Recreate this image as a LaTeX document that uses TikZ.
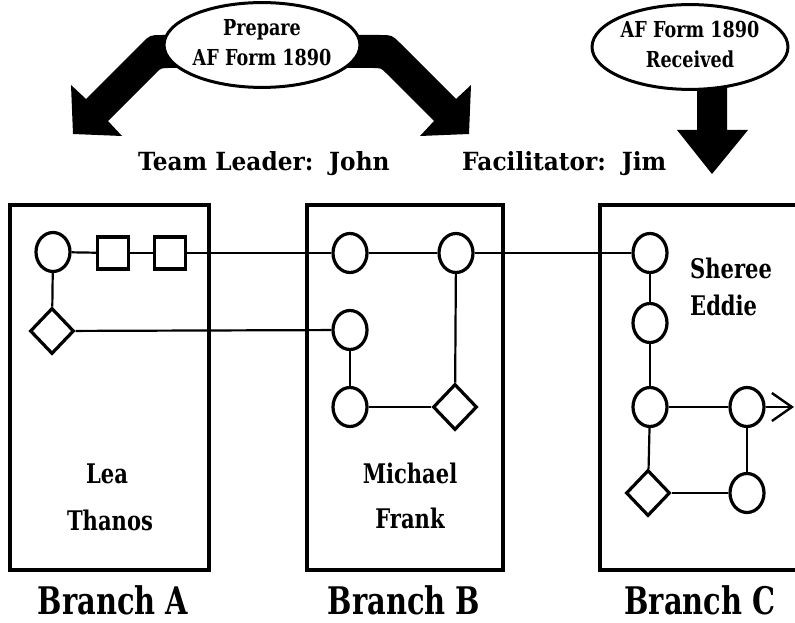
\documentclass[tikz,border=0pt]{standalone}
\usepackage{fontspec}
\setmainfont{DejaVu Serif}
\usetikzlibrary{shapes.geometric,arrows.meta}
\begin{document}
\begin{tikzpicture}[x=1pt,y=-1pt,
  box/.style={line width=3.6pt},
  circ/.style={ellipse,draw,line width=3.2pt,minimum width=34pt,minimum height=39pt,inner sep=0pt,fill=white},
  sq/.style={rectangle,draw,line width=3.2pt,minimum width=31pt,minimum height=32pt,inner sep=0pt,fill=white},
  dia/.style={diamond,draw,line width=3.2pt,minimum width=44pt,minimum height=46pt,inner sep=0pt,fill=white},
  conn/.style={line width=2.2pt},
  bubble/.style={ellipse,draw,line width=3pt,fill=white,inner sep=0pt},
  bubtext/.style={font=\bfseries\fontsize{22}{30}\selectfont},
  person/.style={font=\bfseries\fontsize{27}{30}\selectfont},
  head/.style={font=\bfseries\fontsize{25}{28}\selectfont},
  branch/.style={font=\bfseries\fontsize{38}{42}\selectfont}
]
\useasboundingbox (0,0) rectangle (795,623);
% branch boxes
\draw[box] (10,205) rectangle (209,570);
\draw[box] (307,205) rectangle (503,570);
\draw[box] (796,205) -- (600,205) -- (600,570) -- (796,570);
% big curved arrows
\fill (200,35) -- (162,35) .. controls (150,35) .. (141.5,43.5) -- (86,99) -- (71,85) -- (73,134) -- (122,136) -- (108,121) -- (155.3,73.7) .. controls (161,68) .. (169,68) -- (200,68) -- cycle;
\fill (326,35) -- (380,35) .. controls (392,35) .. (400.5,43.5) -- (456,99) -- (471,85) -- (469,134) -- (420,136) -- (434,121) -- (386.7,73.7) .. controls (381,68) .. (373,68) -- (326,68) -- cycle;
\fill (697,75) -- (697,130) -- (677,130) -- (712,174) -- (748,130) -- (727,130) -- (727,75) -- cycle;
% bubbles
\node[bubble,minimum width=160pt,minimum height=80pt,bubtext] (prep) at (262,45)
  {\scalebox{0.8}[1]{\begin{tabular}{@{}c@{}}Prepare\\AF Form 1890\end{tabular}}};
\node[bubble,minimum width=157pt,minimum height=70pt,bubtext] (recv) at (690,47)
  {\scalebox{0.8}[1]{\begin{tabular}{@{}c@{}}AF Form 1890\\Received\end{tabular}}};
% headings
\node[head,anchor=base west,inner sep=0pt] (tl) at (138,170) {\scalebox{0.93}[1]{Team Leader:\hspace{17pt}John}};
\node[head,anchor=base west,inner sep=0pt] (fac) at (462,170) {\scalebox{0.93}[1]{Facilitator:\hspace{17pt}Jim}};
% Branch A
\node[circ] (a1) at (53,252) {};
\node[sq] (sa1) at (113,253) {};
\node[sq] (sa2) at (170,253) {};
\node[dia] (da) at (52,331) {};
% Branch B
\node[circ] (b1) at (350,253) {};
\node[circ] (b2) at (456,253) {};
\node[circ] (b3) at (350,330) {};
\node[circ] (b4) at (350,407) {};
\node[dia] (db) at (455,407) {};
% Branch C
\node[circ] (c1) at (650,253) {};
\node[circ] (c2) at (650,323) {};
\node[circ] (c3) at (650,407) {};
\node[circ] (c4) at (747,407) {};
\node[dia] (dc) at (648,493) {};
\node[circ] (c5) at (747,493) {};
\coordinate (out) at (794,407);
% connectors
\draw[conn] (a1) -- (sa1);
\draw[conn] (sa1) -- (sa2);
\draw[conn] (sa2) -- (b1);
\draw[conn] (a1) -- (da);
\draw[conn] (da) -- (b3);
\draw[conn] (b1) -- (b2);
\draw[conn] (b2) -- (c1);
\draw[conn] (b2) -- (db);
\draw[conn] (b3) -- (b4);
\draw[conn] (b4) -- (db);
\draw[conn] (c1) -- (c2);
\draw[conn] (c2) -- (c3);
\draw[conn] (c3) -- (c4);
\draw[conn] (c3) -- (dc);
\draw[conn] (dc) -- (c5);
\draw[conn] (c4) -- (c5);
\draw[conn,-{Straight Barb[length=20pt,width=28pt,line width=2.4pt]}] (c4) -- (out);
% names
\node[person,anchor=base,inner sep=0pt] (lea) at (107,483) {\scalebox{0.78}[1]{Lea}};
\node[person,anchor=base,inner sep=0pt] (thanos) at (110,530) {\scalebox{0.78}[1]{Thanos}};
\node[person,anchor=base,inner sep=0pt] (michael) at (410,483) {\scalebox{0.78}[1]{Michael}};
\node[person,anchor=base,inner sep=0pt] (frank) at (410,528) {\scalebox{0.78}[1]{Frank}};
\node[person,anchor=base west,inner sep=0pt] (sheree) at (690,278) {\scalebox{0.78}[1]{Sheree}};
\node[person,anchor=base west,inner sep=0pt] (eddie) at (690,315) {\scalebox{0.78}[1]{Eddie}};
% branch labels
\node[branch,anchor=base,inner sep=0pt] (brA) at (113,614) {\scalebox{0.76}[1]{Branch A}};
\node[branch,anchor=base,inner sep=0pt] (brB) at (404,614) {\scalebox{0.76}[1]{Branch B}};
\node[branch,anchor=base,inner sep=0pt] (brC) at (700,614) {\scalebox{0.76}[1]{Branch C}};
\end{tikzpicture}
\end{document}
